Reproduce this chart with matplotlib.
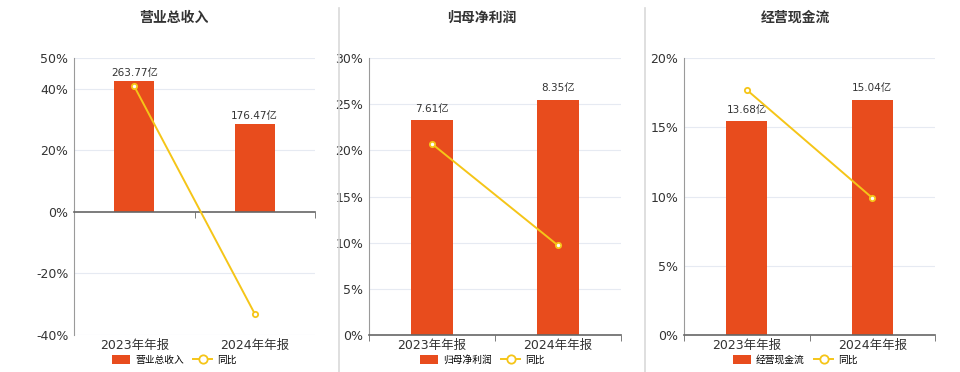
import matplotlib.pyplot as plt
from matplotlib.lines import Line2D
from matplotlib.patches import Patch
from matplotlib.ticker import FuncFormatter

plt.rcParams['font.family'] = ['DejaVu Sans', 'Noto Sans CJK SC']

# dados
categorias = ['2023年年报', '2024年年报']
titulos = ['营业总收入', '归母净利润', '经营现金流']
valores_receita = [263.77, 176.47]
valores_lucro = [7.61, 8.35]
valores_caixa = [13.68, 15.04]
yoy_receita = [40.8, -33.1]
yoy_lucro = [20.7, 9.7]
yoy_caixa = [17.7, 9.9]
ticks_receita = [-40, -20, 0, 20, 40, 50]
ticks_lucro = [0, 5, 10, 15, 20, 25, 30]
ticks_caixa = [0, 5, 10, 15, 20]

painel_valores = [valores_receita, valores_lucro, valores_caixa]
painel_yoy = [yoy_receita, yoy_lucro, yoy_caixa]
painel_ticks = [ticks_receita, ticks_lucro, ticks_caixa]

COR_BARRA = '#E84C1D'
COR_LINHA = '#F5C518'
COR_TEXTO = '#333333'
COR_GRADE = '#E6EAF2'

fig = plt.figure(figsize=(9.6, 3.72), dpi=100, facecolor='white')

# posições dos eixos (px) e centro do título/legenda
eixos_px = [(74, 315), (369, 621), (684, 935)]
centros = [174, 482, 795]
W, H = 960, 372
topo, base = 58, 335

for i in range(3):
    l, r = eixos_px[i]
    ax = fig.add_axes([l / W, (H - base) / H, (r - l) / W, (base - topo) / H])
    ax2 = ax.twinx()
    ax.set_zorder(ax2.get_zorder() + 1)
    ax.patch.set_visible(False)

    ticks = painel_ticks[i]
    ymin, ymax = min(ticks), max(ticks)
    x = range(len(categorias))

    # barras no eixo secundário (escala escondida)
    vals = painel_valores[i]
    topo_barra = max(vals) / 0.85
    ax2.set_ylim(ymin / ymax * topo_barra, topo_barra)
    ax2.bar(x, vals, width=0.33, color=COR_BARRA, zorder=2)
    for xi, v in zip(x, vals):
        ax2.text(xi, v + topo_barra * 0.022, f'{v:.2f}亿', ha='center', va='bottom',
                 fontsize=7.5, color=COR_TEXTO)
    ax2.axis('off')

    # linha de variação anual
    ax.plot(x, painel_yoy[i], color=COR_LINHA, lw=1.4, marker='o', ms=3.8,
            mfc='white', mec=COR_LINHA, mew=1.3, zorder=5)

    ax.set_xlim(-0.5, 1.5)
    ax.set_ylim(ymin, ymax)
    ax2.set_xlim(-0.5, 1.5)
    ax.set_yticks(ticks)
    ax.yaxis.set_major_formatter(FuncFormatter(lambda v, p: f'{v:.0f}%'))
    for t in ticks:
        if t != 0 or ymin < 0:
            pass
        if t != 0:
            ax2.axhline(t / ymax * topo_barra, color=COR_GRADE, lw=0.8, zorder=0)
    ax.tick_params(axis='y', length=0, labelsize=9, labelcolor=COR_TEXTO, pad=4)

    ax.set_xticks(list(x))
    ax.set_xticklabels(categorias)
    ax.set_xticks([-0.5, 0.5, 1.5], minor=True)
    pad = 3
    if ymin < 0:
        # eixo x na linha do zero, rótulos continuam embaixo
        ax.spines['bottom'].set_position(('data', 0))
        zero_px = base - (0 - ymin) / (ymax - ymin) * (base - topo)
        pad = 3 + (base - zero_px) * 0.72
    ax.tick_params(axis='x', which='major', length=0, labelsize=9,
                   labelcolor=COR_TEXTO, pad=pad)
    ax.tick_params(axis='x', which='minor', length=4, color='#666666', direction='out')

    for s in ['top', 'right']:
        ax.spines[s].set_visible(False)
    ax.spines['left'].set_color('#9a9a9a')
    ax.spines['bottom'].set_color('#666666')
    ax.spines['bottom'].set_linewidth(1.2)

    fig.text(centros[i] / W, (H - 18) / H, titulos[i], ha='center', va='center',
             fontsize=10, fontweight='bold', color=COR_TEXTO, family='Noto Sans CJK SC')

    handles = [Patch(facecolor=COR_BARRA, edgecolor='none'),
               Line2D([], [], color=COR_LINHA, lw=1.4, marker='o', ms=6,
                      mfc='white', mec=COR_LINHA, mew=1.3)]
    fig.legend(handles, [titulos[i], '同比'], loc='center',
               bbox_to_anchor=(centros[i] / W, (H - 360) / H), ncol=2, frameon=False,
               handlelength=1.9, handleheight=1.0, columnspacing=1.0,
               handletextpad=0.5, prop={'family': 'Noto Sans CJK SC', 'size': 7})

# separadores
for xs in [339, 645]:
    fig.add_artist(Line2D([xs / W, xs / W], [0, (H - 8) / H], color='#d9d9d9', lw=1.2))

plt.savefig('out.png', dpi=100, facecolor='white')
